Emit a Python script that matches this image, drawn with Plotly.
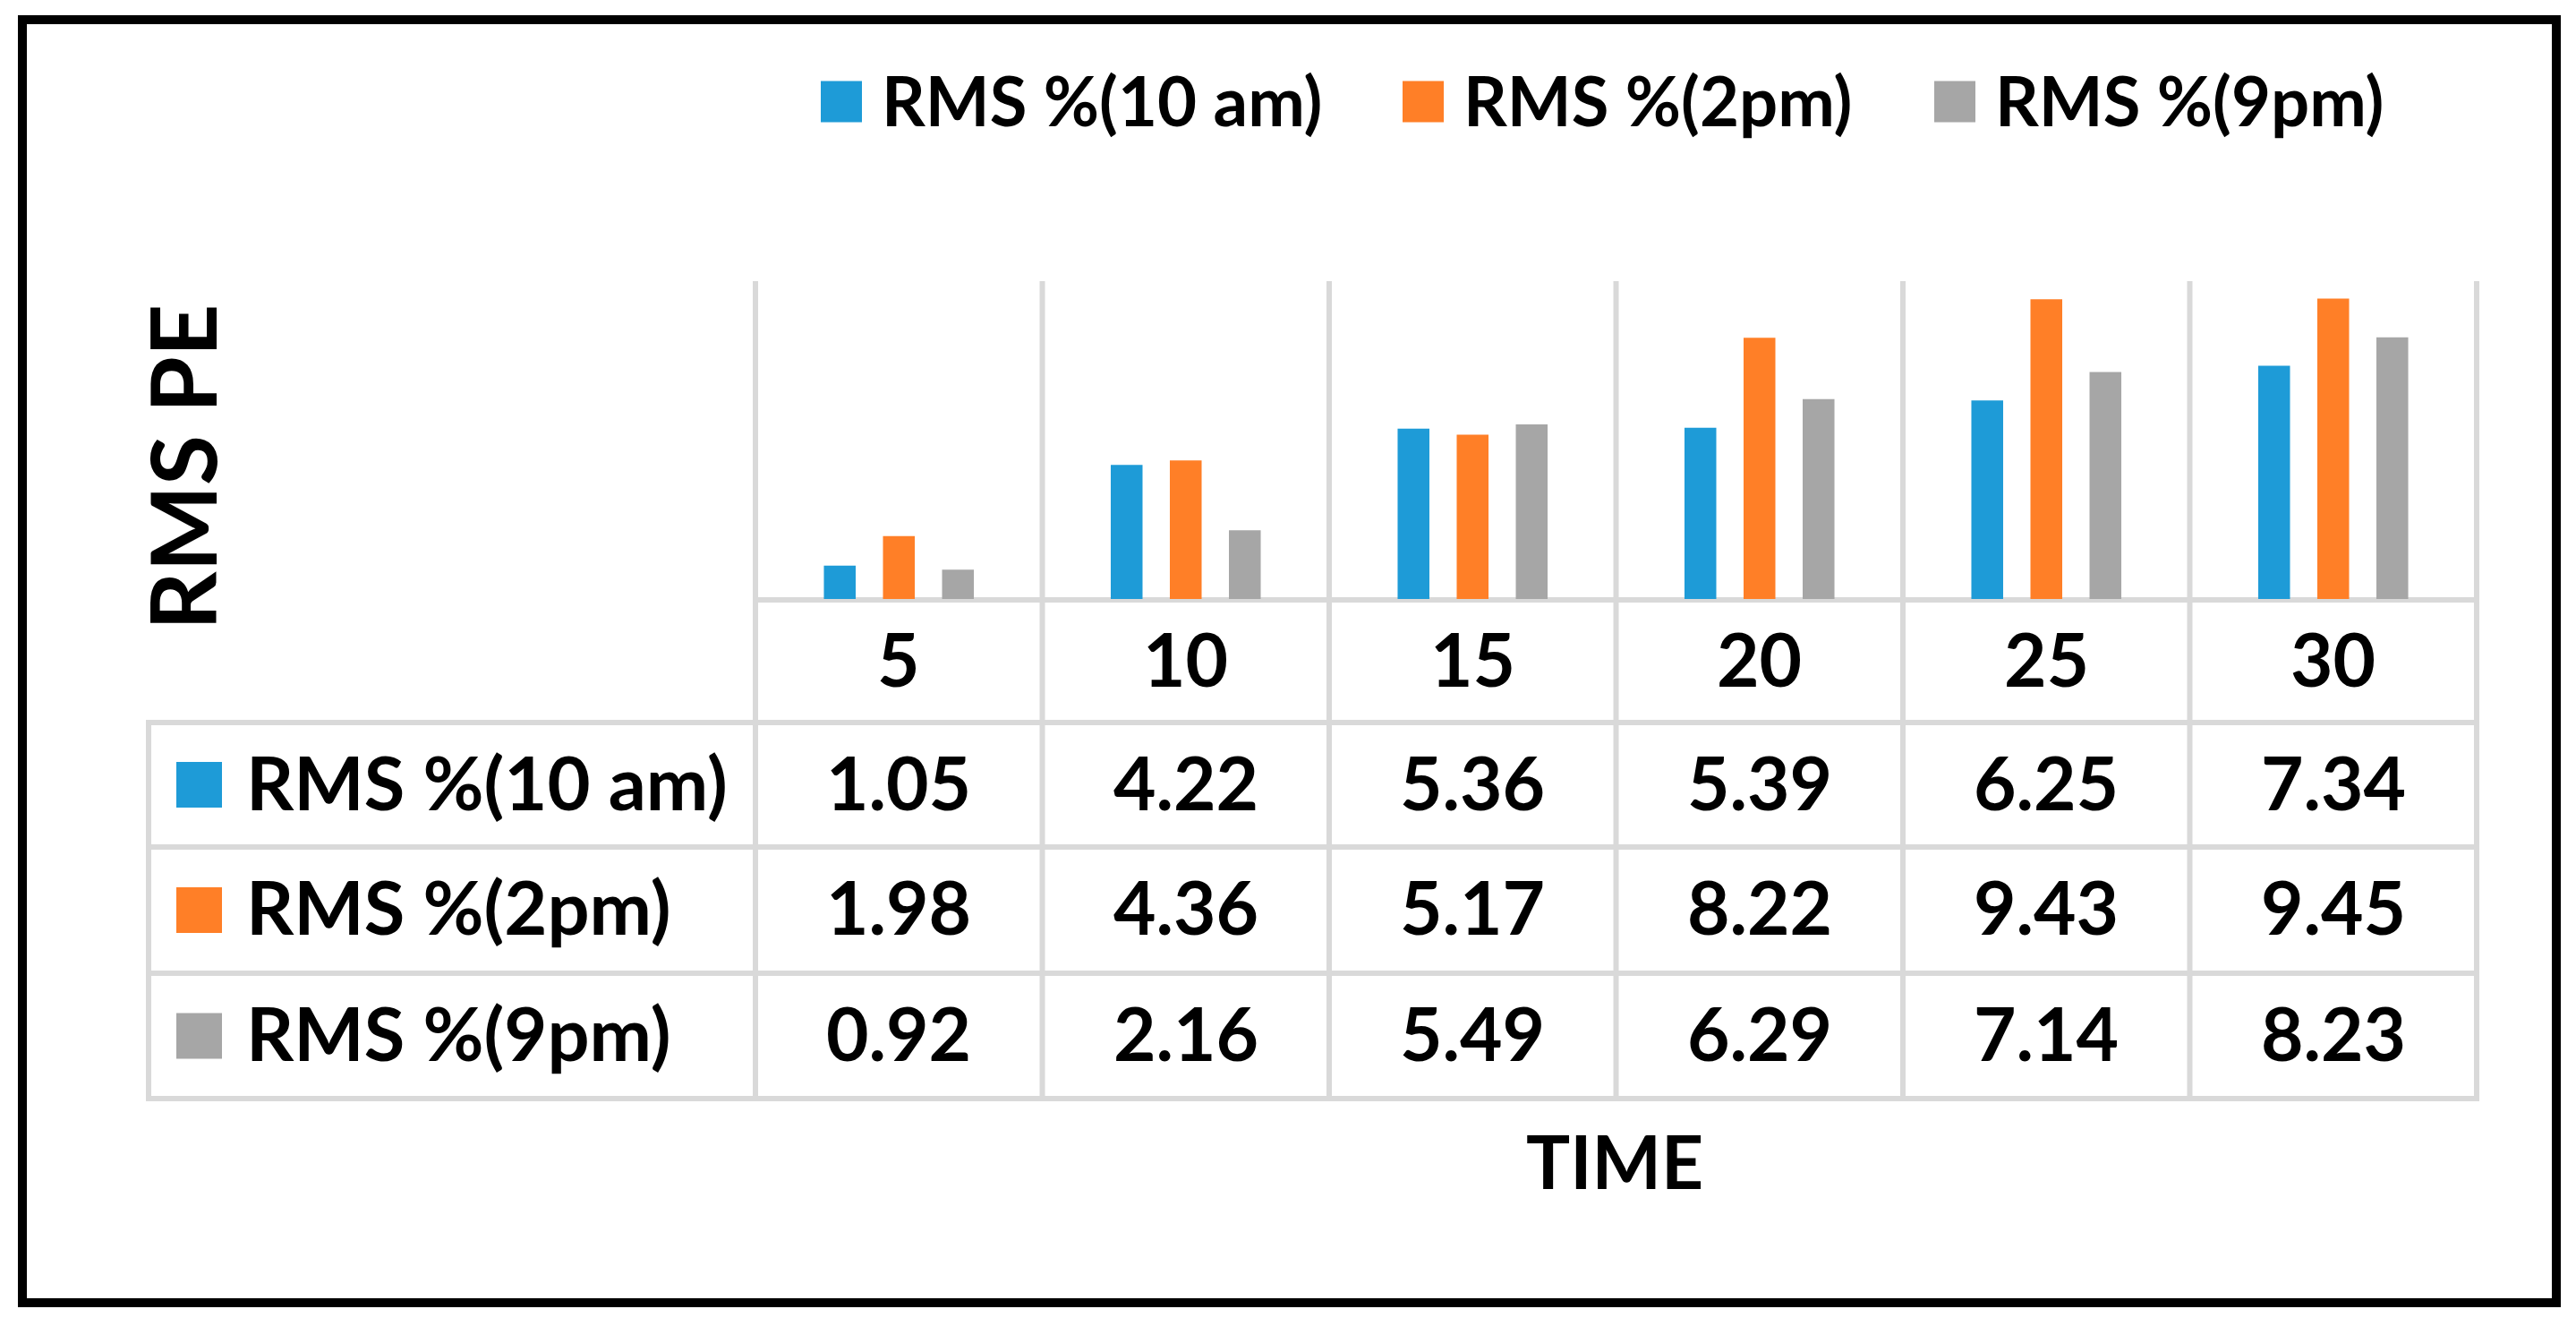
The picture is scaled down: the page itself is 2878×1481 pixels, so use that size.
import plotly.graph_objects as go

W, H = 2878, 1481

# ---- data ----
categories = ["5", "10", "15", "20", "25", "30"]
series_names = ["RMS %(10 am)", "RMS %(2pm)", "RMS %(9pm)"]
rms_10am = [1.05, 4.22, 5.36, 5.39, 6.25, 7.34]
rms_2pm = [1.98, 4.36, 5.17, 8.22, 9.43, 9.45]
rms_9pm = [0.92, 2.16, 5.49, 6.29, 7.14, 8.23]
x_title = "TIME"
y_title = "RMS PE"

series_values = [rms_10am, rms_2pm, rms_9pm]
colors = ["#1E9BD7", "#FF7F27", "#A6A6A6"]
GRID = "#D9D9D9"
FONT = "Lato"
TXT_SHIFT = 4  # small upward nudge of text baseline (px)


def px(x):
    return x / W


def py(y):
    return 1 - y / H


PLOT_L, PLOT_R, PLOT_T, PLOT_B = 844, 2767, 314, 669
TABLE_L = 166
ROW_LINES = [670, 807, 946, 1087, 1227]

fig = go.Figure()
for name, vals, col in zip(series_names, series_values, colors):
    fig.add_trace(go.Bar(x=categories, y=vals, name=name, marker=dict(color=col, line=dict(width=0)),
                         showlegend=False, hoverinfo="skip"))

shapes = []
annotations = []

# vertical grid / table column lines
n = len(categories)
cw = (PLOT_R - PLOT_L) / n
for i in range(n + 1):
    xx = PLOT_L + i * cw
    shapes.append(dict(type="line", xref="paper", yref="paper", x0=px(xx), x1=px(xx),
                       y0=py(PLOT_T), y1=py(ROW_LINES[-1]), line=dict(color=GRID, width=6), layer="below"))
# horizontal axis line
shapes.append(dict(type="line", xref="paper", yref="paper", x0=px(PLOT_L - 3), x1=px(PLOT_R + 3),
                   y0=py(ROW_LINES[0]), y1=py(ROW_LINES[0]), line=dict(color=GRID, width=6), layer="below"))
# table horizontal lines
for yy in ROW_LINES[1:]:
    shapes.append(dict(type="line", xref="paper", yref="paper", x0=px(TABLE_L - 3), x1=px(PLOT_R + 3),
                       y0=py(yy), y1=py(yy), line=dict(color=GRID, width=6), layer="below"))
# table left line
shapes.append(dict(type="line", xref="paper", yref="paper", x0=px(TABLE_L), x1=px(TABLE_L),
                   y0=py(ROW_LINES[1]), y1=py(ROW_LINES[-1]), line=dict(color=GRID, width=6), layer="below"))

# outer border
shapes.append(dict(type="rect", xref="paper", yref="paper", x0=px(25), x1=px(2856), y0=py(22), y1=py(1455),
                   line=dict(color="black", width=10), fillcolor="rgba(0,0,0,0)", layer="above"))

# category labels (positioned by category index on the x axis)
cat_y = (ROW_LINES[0] + ROW_LINES[1]) / 2 - TXT_SHIFT
for i, c in enumerate(categories):
    annotations.append(dict(x=i, xref="x", y=py(cat_y), yref="paper", text=c, showarrow=False,
                            xanchor="center", yanchor="middle",
                            font=dict(family=FONT, size=82, color="black", weight="bold")))

# table rows
for r, (name, vals, col) in enumerate(zip(series_names, series_values, colors)):
    y0, y1 = ROW_LINES[r + 1], ROW_LINES[r + 2]
    yc = (y0 + y1) / 2
    shapes.append(dict(type="rect", xref="paper", yref="paper", x0=px(197), x1=px(248),
                       y0=py(yc - 25.5), y1=py(yc + 25.5), fillcolor=col, line=dict(width=0), layer="above"))
    annotations.append(dict(x=px(273), xref="paper", y=py(yc - TXT_SHIFT), yref="paper", text=name,
                            showarrow=False, xanchor="left", yanchor="middle",
                            font=dict(family=FONT, size=83, color="black", weight="bold")))
    for i, v in enumerate(vals):
        annotations.append(dict(x=i, xref="x", y=py(yc - TXT_SHIFT), yref="paper", text=f"{v:.2f}",
                                showarrow=False, xanchor="center", yanchor="middle",
                                font=dict(family=FONT, size=82, color="black", weight="bold")))

# legend (manual)
leg_sq_x = [917, 1567, 2161]
leg_yc = 113.5
for name, col, lx in zip(series_names, colors, leg_sq_x):
    shapes.append(dict(type="rect", xref="paper", yref="paper", x0=px(lx), x1=px(lx + 46),
                       y0=py(leg_yc - 23), y1=py(leg_yc + 23), fillcolor=col, line=dict(width=0), layer="above"))
    annotations.append(dict(x=px(lx + 66), xref="paper", y=py(leg_yc - 2), yref="paper", text=name,
                            showarrow=False, xanchor="left", yanchor="middle",
                            font=dict(family=FONT, size=76, color="black", weight="bold")))

# axis titles
annotations.append(dict(x=px(1804), xref="paper", y=py(1296), yref="paper", text=x_title, showarrow=False,
                        xanchor="center", yanchor="middle",
                        font=dict(family=FONT, size=82, color="black", weight="bold")))
annotations.append(dict(x=px(202), xref="paper", y=py(522), yref="paper", text=y_title, showarrow=False,
                        textangle=-90, xanchor="center", yanchor="middle",
                        font=dict(family=FONT, size=102, color="black", weight="bold")))

fig.update_layout(
    width=W, height=H,
    margin=dict(l=0, r=0, t=0, b=0),
    paper_bgcolor="white", plot_bgcolor="rgba(0,0,0,0)",
    barmode="group", bargap=0.382, bargroupgap=0.462,
    xaxis=dict(type="category", domain=[px(PLOT_L), px(PLOT_R)], range=[-0.5, n - 0.5],
               showgrid=False, zeroline=False, showticklabels=False, ticks="", showline=False),
    yaxis=dict(domain=[py(PLOT_B), py(PLOT_T)], range=[0, 10], visible=False),
    shapes=shapes, annotations=annotations,
    showlegend=False,
)

fig.write_html("out.html", config={"displayModeBar": False},
               post_script="document.body.style.margin='0';document.body.style.overflow='hidden';")
